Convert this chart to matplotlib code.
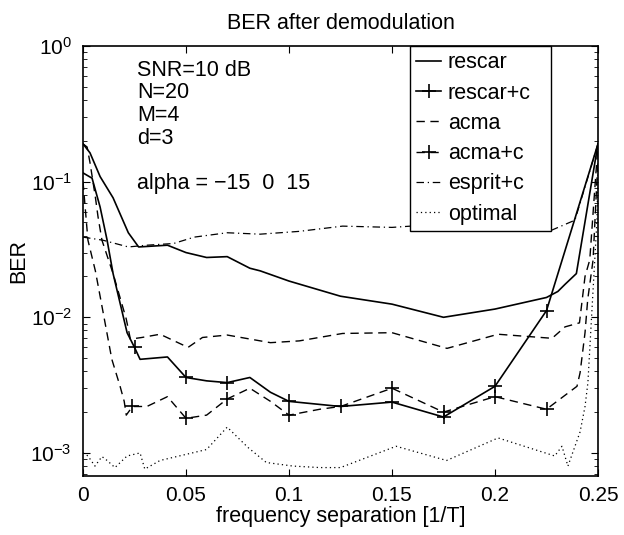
import matplotlib
matplotlib.use("Agg")
import matplotlib.pyplot as plt
from matplotlib.ticker import FormatStrFormatter, LogLocator
from matplotlib.legend_handler import HandlerLine2D

plt.rcParams['font.family'] = ['Liberation Sans', 'DejaVu Sans']
plt.rcParams['mathtext.fontset'] = 'custom'
plt.rcParams['mathtext.rm'] = 'Liberation Sans'
plt.rcParams['mathtext.it'] = 'Liberation Sans'
plt.rcParams['mathtext.default'] = 'regular'

# --- data ---
rescar_x = [0, 0.0034, 0.0083, 0.0146, 0.022, 0.027, 0.041, 0.05, 0.06, 0.07, 0.081, 0.086,
            0.1, 0.125, 0.15, 0.175, 0.2, 0.225, 0.2305, 0.234, 0.2395, 0.25]
rescar_y = [0.19, 0.163, 0.109, 0.076, 0.042, 0.033, 0.034, 0.030, 0.0276, 0.028, 0.023, 0.022,
            0.0185, 0.0143, 0.0125, 0.010, 0.0115, 0.014, 0.0155, 0.0175, 0.021, 0.19]

rescarc_x = [0, 0.0044, 0.0083, 0.0117, 0.0146, 0.0214, 0.025, 0.0277, 0.041, 0.05, 0.06, 0.07,
             0.081, 0.091, 0.1, 0.125, 0.15, 0.175, 0.2, 0.225, 0.25]
rescarc_y = [0.116, 0.106, 0.065, 0.037, 0.021, 0.0077, 0.006, 0.0049, 0.0051, 0.0036, 0.0034, 0.0033,
             0.0036, 0.0028, 0.0024, 0.0022, 0.00237, 0.00184, 0.0031, 0.0112, 0.19]
rescarc_marks = [6, 9, 11, 14, 15, 16, 17, 18, 19]

acma_x = [0, 0.002, 0.0034, 0.006, 0.0073, 0.0092, 0.0146, 0.021, 0.023, 0.0286, 0.0374, 0.051,
          0.058, 0.07, 0.091, 0.105, 0.126, 0.15, 0.1767, 0.2015, 0.2277, 0.234, 0.241, 0.2437,
          0.246, 0.2485, 0.25]
acma_y = [0.19, 0.18, 0.138, 0.077, 0.055, 0.037, 0.021, 0.0097, 0.0069, 0.0071, 0.0075, 0.006,
          0.0071, 0.0074, 0.0065, 0.0067, 0.0076, 0.0077, 0.0059, 0.0075, 0.007, 0.0085, 0.0091, 0.020,
          0.0265, 0.091, 0.19]

acmac_x = [0, 0.0024, 0.006, 0.0097, 0.014, 0.018, 0.020, 0.021, 0.024, 0.031, 0.041, 0.05,
           0.06, 0.07, 0.081, 0.091, 0.1, 0.115, 0.125, 0.15, 0.175, 0.2, 0.225, 0.2398, 0.2413,
           0.2437, 0.245, 0.2476, 0.25]
acmac_y = [0.10, 0.037, 0.022, 0.011, 0.0049, 0.0031, 0.0024, 0.0019, 0.0022, 0.0022, 0.0026, 0.0018,
           0.0019, 0.0025, 0.003, 0.0024, 0.0019, 0.0021, 0.0022, 0.0030, 0.0020, 0.0026, 0.0021, 0.0031,
           0.0039, 0.0077, 0.0135, 0.0264, 0.15]
acmac_marks = [8, 11, 13, 16, 19, 20, 21, 22]

esprit_x = [0, 0.0097, 0.022, 0.031, 0.044, 0.054, 0.07, 0.086, 0.105, 0.126, 0.15, 0.1767,
            0.2015, 0.2277, 0.2388, 0.25]
esprit_y = [0.039, 0.037, 0.033, 0.034, 0.035, 0.039, 0.042, 0.041, 0.043, 0.047, 0.046, 0.049,
            0.047, 0.044, 0.052, 0.19]

optimal_x = [0, 0.0024, 0.0058, 0.0092, 0.0117, 0.0155, 0.0214, 0.0277, 0.030, 0.0374, 0.053, 0.06,
             0.07, 0.08, 0.089, 0.102, 0.115, 0.125, 0.152, 0.1765, 0.2015, 0.229, 0.2325, 0.2354,
             0.2413, 0.2437, 0.2451, 0.2495, 0.25]
optimal_y = [0.001, 0.00095, 0.0008, 0.00094, 0.00088, 0.00078, 0.00095, 0.001, 0.00076, 0.00088, 0.001, 0.00106,
             0.00155, 0.0011, 0.00085, 0.0008, 0.00078, 0.00078, 0.00112, 0.00088, 0.00129, 0.00095, 0.00112, 0.0008,
             0.00143, 0.0022, 0.0033, 0.052, 0.12]

xticks = [0, 0.05, 0.1, 0.15, 0.2, 0.25]
info_lines = ["SNR=10 dB", "N=20", "M=4", "d=3", "", "alpha = \u221215  0  15"]


class LeftMarkerHandler(HandlerLine2D):
    # matlab-style legend: the marker sits at the left end of the line sample
    def get_xdata(self, legend, xdescent, ydescent, width, height, fontsize):
        xdata, _ = super().get_xdata(legend, xdescent, ydescent, width, height, fontsize)
        return xdata, [xdata[0] + 3]


fig = plt.figure(figsize=(6.24, 5.35), dpi=100)
ax = fig.add_axes([83 / 624, 59 / 535, 515 / 624, 430 / 535])

lw = 1.2
ax.plot(rescar_x, rescar_y, color='k', lw=lw, ls='-', label='rescar')
l_rc, = ax.plot(rescarc_x, rescarc_y, color='k', lw=lw, ls='-', marker='+', ms=10, mew=1.2,
                markevery=rescarc_marks, label='rescar+c')
ax.plot(acma_x, acma_y, color='k', lw=1.0, ls=(0, (6, 4)), label='acma')
l_ac, = ax.plot(acmac_x, acmac_y, color='k', lw=1.0, ls=(0, (6, 4)), marker='+', ms=10, mew=1.2,
                markevery=acmac_marks, label='acma+c')
ax.plot(esprit_x, esprit_y, color='k', lw=0.9, ls=(0, (6, 3, 1, 3)), label='esprit+c')
ax.plot(optimal_x, optimal_y, color='k', lw=0.9, ls=(0, (1, 2.5)), label='optimal')

ax.set_yscale('log')
ax.set_xlim(0, 0.25)
ax.set_ylim(10 ** -3.17, 1)
ax.set_xticks(xticks)
ax.xaxis.set_major_formatter(FormatStrFormatter('%g'))
ax.yaxis.set_major_locator(LogLocator(base=10, numticks=10))
ax.yaxis.set_minor_locator(LogLocator(base=10, subs=range(2, 10), numticks=20))
ax.tick_params(which='both', direction='in', top=True, right=True, labelsize=15)
ax.tick_params(which='major', length=5)
ax.tick_params(which='minor', length=3)
ax.tick_params(axis='x', pad=7)
ax.tick_params(axis='y', pad=8)
for s in ax.spines.values():
    s.set_linewidth(1.2)

ax.set_title('BER after demodulation', fontsize=15.5, pad=12)
ax.set_xlabel('frequency separation [1/T]', fontsize=15.5, labelpad=1)
ax.set_ylabel('BER', fontsize=15.5, labelpad=1)

ax.text(0.105, 0.968, "\n".join(info_lines), transform=ax.transAxes, va='top', ha='left',
        fontsize=15.5, linespacing=1.1)

leg = ax.legend(loc='upper left', bbox_to_anchor=(0.635, 0.0, 141 / 515, 1.0), mode='expand',
                fontsize=15.5, handlelength=1.15, handletextpad=0.3, labelspacing=0.43,
                borderpad=0.3, fancybox=False, framealpha=1, edgecolor='k',
                borderaxespad=0, numpoints=1,
                handler_map={l_rc: LeftMarkerHandler(), l_ac: LeftMarkerHandler()})
leg.get_frame().set_linewidth(1.0)

fig.savefig('out.png', dpi=100)
